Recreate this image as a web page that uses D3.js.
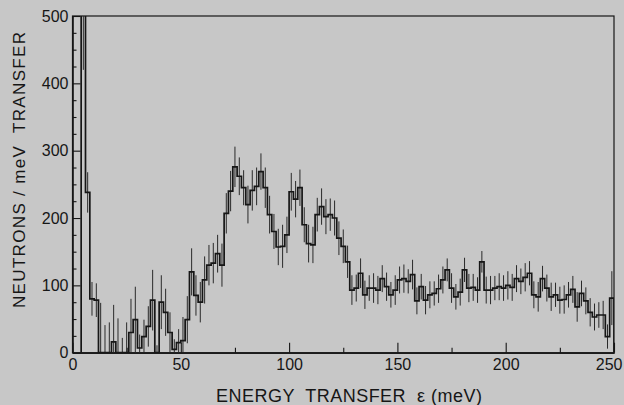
<!DOCTYPE html>
<html>
<head>
<meta charset="utf-8">
<script src="https://cdn.jsdelivr.net/npm/d3@7"></script>
<style>
	body { margin: 0; background: #c7c7c7; }
	svg { display: block; }
	.tick text { font-family: 'Liberation Sans', Arial, sans-serif; }
</style>
</head>
<body>
<div id="spectrum"></div>
<script>
// Histogram bins: 2 meV wide, first bin starts at 4 meV
const firstBin = 4;
const binWidth = 2;

// Neutrons per meV transfer, one value per bin
const counts = [
	560, 238, 80, 78, 0, 0, 0, 16, 0, 0,
	0, 30, 49, 7, 24, 39, 78, 0, 75, 60,
	30, 5, 15, 18, 49, 120, 85, 75, 108, 130,
	133, 147, 130, 207, 240, 276, 262, 245, 220, 241,
	247, 269, 245, 205, 180, 157, 158, 175, 239, 228,
	245, 190, 162, 160, 205, 217, 202, 205, 200, 170,
	158, 135, 93, 96, 118, 86, 96, 96, 93, 110,
	98, 86, 93, 108, 110, 106, 116, 77, 98, 78,
	86, 88, 95, 108, 123, 96, 83, 90, 123, 96,
	97, 93, 135, 93, 93, 96, 98, 96, 100, 97,
	110, 106, 112, 118, 86, 83, 110, 96, 83, 86,
	78, 79, 86, 94, 68, 88, 77, 60, 53, 56,
	56, 24, 81
];

// Statistical error (+/-) on each bin
const errors = [
	140, 30, 25, 25, 74, 41, 45, 55, 51, 22,
	45, 50, 49, 20, 25, 30, 45, 11, 40, 35,
	30, 15, 20, 35, 35, 35, 30, 30, 35, 30,
	30, 28, 32, 30, 30, 30, 28, 26, 28, 30,
	28, 27, 30, 28, 26, 27, 32, 27, 28, 27,
	27, 26, 28, 27, 25, 27, 26, 24, 26, 25,
	25, 24, 22, 20, 22, 21, 19, 22, 21, 20,
	21, 19, 22, 20, 21, 18, 22, 20, 19, 21,
	20, 18, 21, 20, 17, 22, 19, 20, 18, 21,
	20, 19, 16, 20, 21, 18, 20, 19, 21, 20,
	20, 19, 21, 18, 20, 22, 19, 20, 21, 18,
	20, 21, 19, 20, 22, 19, 20, 21, 20, 19,
	21, 18, 40
];

const xTicks = [0, 50, 100, 150, 200, 250];
const xMinorTicks = [25, 75, 125, 175, 225];
const yTicks = [0, 100, 200, 300, 400, 500];
const yMinorTicks = d3.range(0, 501, 25).filter((d) => d % 100 !== 0);

const width = 624, height = 405;
const plot = { left: 72.5, right: 614, top: 16, bottom: 352.7 };

const svg = d3
	.select('#spectrum')
	.append('svg')
	.attr('width', width)
	.attr('height', height);

svg.append('rect').attr('width', width).attr('height', height).attr('fill', '#c7c7c7');

const x = d3.scaleLinear().domain([0, 250]).range([plot.left, plot.right]);
const y = d3.scaleLinear().domain([0, 500]).range([plot.bottom, plot.top]);

const ink = '#161616';

// clip the off-scale elastic peak at the frame
svg
	.append('clipPath')
	.attr('id', 'plotclip')
	.append('rect')
	.attr('x', plot.left)
	.attr('y', plot.top)
	.attr('width', plot.right - plot.left)
	.attr('height', plot.bottom - plot.top);

// X axis, ticks pointing inward
const xAxis = svg.append('g').attr('transform', `translate(0,${plot.bottom})`);
xAxis.call(
	d3.axisBottom(x).tickValues(xTicks).tickSize(-10).tickSizeOuter(0).tickPadding(6)
);
xAxis
	.append('g')
	.call(d3.axisBottom(x).tickValues(xMinorTicks).tickSize(-5).tickSizeOuter(0).tickFormat(''));

// last label sits against the page edge
xAxis
	.selectAll('.tick text')
	.filter((d) => d === 250)
	.attr('text-anchor', 'end')
	.attr('x', width - plot.right - 2);

// Y axis
const yAxis = svg.append('g').attr('transform', `translate(${plot.left},0)`);
yAxis.call(
	d3.axisLeft(y).tickValues(yTicks).tickSize(-8).tickSizeOuter(0).tickPadding(4)
);
yAxis
	.append('g')
	.call(d3.axisLeft(y).tickValues(yMinorTicks).tickSize(-4).tickSizeOuter(0).tickFormat(''));

svg.selectAll('.tick line, .domain').attr('stroke', ink).attr('stroke-width', 1.1);
svg.selectAll('.tick text').attr('fill', ink).attr('font-size', 16);

// frame
svg
	.append('rect')
	.attr('x', plot.left)
	.attr('y', plot.top)
	.attr('width', plot.right - plot.left)
	.attr('height', plot.bottom - plot.top)
	.attr('fill', 'none')
	.attr('stroke', ink)
	.attr('stroke-width', 1.2);

const bins = counts.map((c, i) => ({
	lo: firstBin + i * binWidth,
	hi: firstBin + (i + 1) * binWidth,
	value: c,
	err: errors[i],
}));

const marks = svg.append('g').attr('clip-path', 'url(#plotclip)');

// error bars
marks
	.selectAll('line.err')
	.data(bins)
	.join('line')
	.attr('class', 'err')
	.attr('x1', (d) => x((d.lo + d.hi) / 2))
	.attr('x2', (d) => x((d.lo + d.hi) / 2))
	.attr('y1', (d) => y(Math.max(0, d.value - d.err)))
	.attr('y2', (d) => y(d.value + d.err))
	.attr('stroke', '#2a2a2a')
	.attr('stroke-width', 1);

// histogram steps
const pts = [{ e: bins[0].lo, v: 0 }]
	.concat(bins.map((d) => ({ e: d.lo, v: d.value })))
	.concat([{ e: bins[bins.length - 1].hi, v: bins[bins.length - 1].value }])
	.concat([{ e: bins[bins.length - 1].hi, v: 0 }]);

marks
	.append('path')
	.datum(pts)
	.attr(
		'd',
		d3
			.line()
			.x((d) => x(d.e))
			.y((d) => y(d.v))
			.curve(d3.curveStepAfter)
	)
	.attr('fill', 'none')
	.attr('stroke', ink)
	.attr('stroke-width', 1.7);

// axis titles
svg
	.append('text')
	.attr('x', 216)
	.attr('y', 402)
	.attr('font-family', "'Liberation Sans', Arial, sans-serif")
	.attr('font-size', 18)
	.attr('fill', ink)
	.style('white-space', 'pre')
	.attr('textLength', 266)
	.text('ENERGY  TRANSFER  \u03b5 (meV)');

svg
	.append('text')
	.attr('transform', 'translate(25,308) rotate(-90)')
	.attr('font-family', "'Liberation Sans', Arial, sans-serif")
	.attr('font-size', 17)
	.attr('fill', ink)
	.style('white-space', 'pre')
	.attr('textLength', 276)
	.text('NEUTRONS / meV  TRANSFER');
</script>
</body>
</html>
